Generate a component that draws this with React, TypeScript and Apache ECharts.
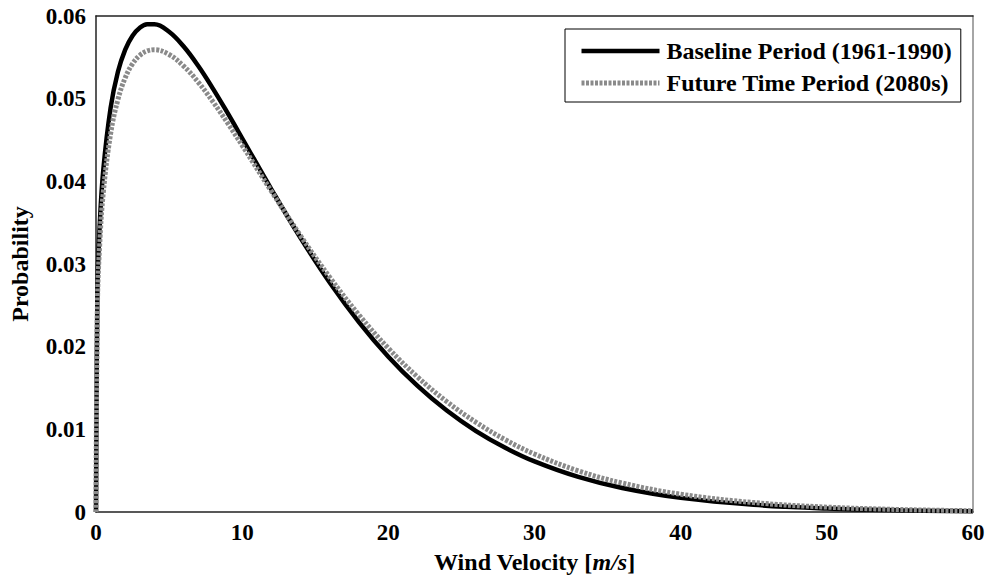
import React, { useEffect, useRef } from "react";
import * as echarts from "echarts";

const windVelocity = [0, 0.1, 0.25, 0.5, 1, 1.5, 2, 2.5, 3, 3.5, 4, 5, 6, 7, 8, 9, 10, 12, 14, 16, 18, 20, 22, 24, 26, 28, 30, 33, 36, 40, 45, 50, 55, 60];
const baselineProb = [0, 0.027, 0.0345, 0.0414, 0.0489, 0.05325, 0.05594, 0.05762, 0.05858, 0.059, 0.05901, 0.0581, 0.05631, 0.05395, 0.05122, 0.04827, 0.04521, 0.03904, 0.03314, 0.02774, 0.02295, 0.01879, 0.01525, 0.01227, 0.00979, 0.00777, 0.00612, 0.00424, 0.0029, 0.00171, 0.00087, 0.00043, 0.00021, 0.0001];
const futureProb = [0, 0.0252, 0.03225, 0.03866, 0.04577, 0.0499, 0.05253, 0.05422, 0.05525, 0.05577, 0.05592, 0.05534, 0.05393, 0.05198, 0.04963, 0.04706, 0.04435, 0.0388, 0.0334, 0.02837, 0.02382, 0.01981, 0.01633, 0.01335, 0.01085, 0.00874, 0.00701, 0.00498, 0.0035, 0.00215, 0.00114, 0.00059, 0.0003, 0.00015];
const seriesNames = ["Baseline Period (1961-1990)", "Future Time Period (2080s)"];
const xTicks = { min: 0, max: 60, interval: 10 };
const yTicks = { min: 0, max: 0.06, interval: 0.01 };

const FONT = "'Liberation Serif', 'Times New Roman', serif";
const BLACK_LINE = { color: "#000", width: 4.5 };
const GRAY_LINE = { color: "#8a8a8a", width: 5, type: [3, 1.5] as number[] };
const HIDDEN_SYMBOL = { color: "rgba(0,0,0,0)", borderWidth: 0, opacity: 0 };

export default function App() {
  const ref = useRef<HTMLDivElement>(null);
  useEffect(() => {
    if (!ref.current) return;
    const chart = echarts.init(ref.current, null, { renderer: "svg" });
    const base = windVelocity.map((x, i) => [x, baselineProb[i]]);
    const fut = windVelocity.map((x, i) => [x, futureProb[i]]);
    const tickStyle = { color: "#000", fontFamily: FONT, fontWeight: "bold" as const, fontSize: 23 };
    const titleStyle = { color: "#000", fontFamily: FONT, fontWeight: "bold" as const, fontSize: 24 };
    chart.setOption({
      animation: false,
      backgroundColor: "#fff",
      grid: { left: 94, top: 16, right: 19, bottom: 69, containLabel: false },
      legend: {
        orient: "vertical",
        left: 565,
        top: 29,
        padding: [10, 9, 7, 14],
        itemGap: 8,
        itemWidth: 78,
        itemHeight: 22,
        borderColor: "#000",
        borderWidth: 1,
        backgroundColor: "#fff",
        textStyle: { ...titleStyle, padding: [0, 0, 0, 2] },
        data: [
          { name: seriesNames[0], lineStyle: BLACK_LINE, itemStyle: HIDDEN_SYMBOL },
          { name: seriesNames[1], lineStyle: GRAY_LINE, itemStyle: HIDDEN_SYMBOL },
        ],
      },
      xAxis: [
        {
          type: "value",
          ...xTicks,
          position: "bottom",
          axisLine: { show: true, lineStyle: { color: "#222", width: 1.5 } },
          axisTick: { show: false },
          splitLine: { show: false },
          axisLabel: { ...tickStyle, margin: 9 },
          name: "Wind Velocity [{i|m/s}]",
          nameLocation: "middle",
          nameGap: 38,
          nameTextStyle: { ...titleStyle, rich: { i: { ...titleStyle, fontStyle: "italic" } } },
        },
        {
          type: "value",
          ...xTicks,
          position: "top",
          axisLine: { show: true, onZero: false, lineStyle: { color: "#222", width: 1.5 } },
          axisTick: { show: false },
          axisLabel: { show: false },
          splitLine: { show: false },
        },
      ],
      yAxis: [
        {
          type: "value",
          ...yTicks,
          position: "left",
          axisLine: { show: true, lineStyle: { color: "#222", width: 1.5 } },
          axisTick: { show: false },
          splitLine: { show: false },
          axisLabel: {
            ...tickStyle,
            margin: 10,
            formatter: (v: number) => (v === 0 ? "0" : v.toFixed(2)),
          },
          name: "Probability",
          nameLocation: "middle",
          nameGap: 64,
          nameTextStyle: titleStyle,
        },
        {
          type: "value",
          ...yTicks,
          position: "right",
          axisLine: { show: true, onZero: false, lineStyle: { color: "#888", width: 1.5 } },
          axisTick: { show: false },
          axisLabel: { show: false },
          splitLine: { show: false },
        },
      ],
      series: [
        {
          name: seriesNames[0],
          type: "line",
          data: base,
          showSymbol: false,
          symbol: "none",
          smooth: 0.4,
          clip: true,
          lineStyle: BLACK_LINE,
          itemStyle: { color: "#000" },
        },
        {
          name: seriesNames[1],
          type: "line",
          data: fut,
          showSymbol: false,
          symbol: "none",
          smooth: 0.4,
          clip: true,
          lineStyle: GRAY_LINE,
          itemStyle: { color: "#8a8a8a" },
        },
      ],
    });
    return () => chart.dispose();
  }, []);
  return <div ref={ref} style={{ width: 992, height: 581, position: "absolute", left: 0, top: 0 }} />;
}
